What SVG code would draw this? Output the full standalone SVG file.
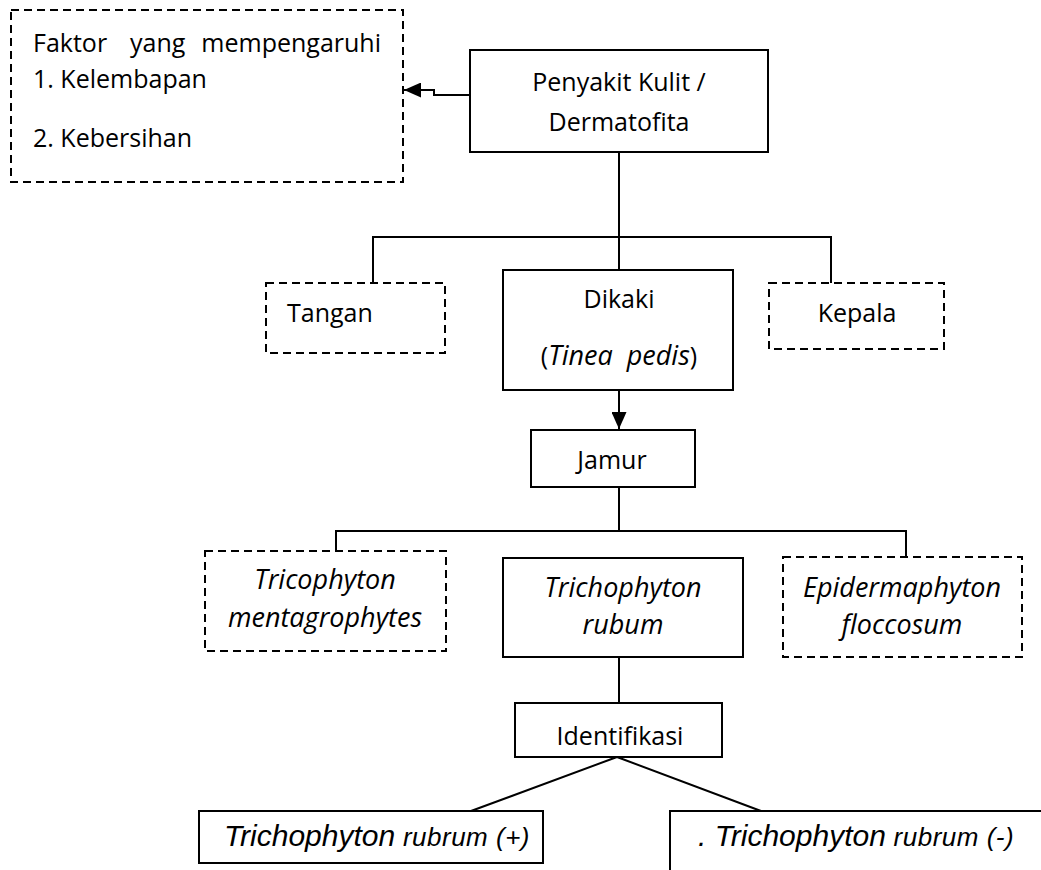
<svg xmlns="http://www.w3.org/2000/svg" width="1041" height="870" viewBox="0 0 1041 870">
<style>
.solid{fill:#fff;stroke:#000;stroke-width:2}
.dash{fill:#fff;stroke:#000;stroke-width:2;stroke-dasharray:8 5}
.conn{fill:none;stroke:#000;stroke-width:2}
.t{font-family:"Open Sans","Liberation Sans",sans-serif;font-size:25px;fill:#000}
.c{text-anchor:middle}
.i{font-style:italic;font-size:27px}
.a{font-family:"Liberation Sans",Arial,sans-serif;font-style:italic;fill:#000}
.big{font-size:30px}
.sm{font-size:26px;letter-spacing:0.5px}
</style>
<defs>
<marker id="arr" markerUnits="userSpaceOnUse" markerWidth="17" markerHeight="15" refX="17" refY="7.5" orient="auto">
<path d="M0,0 L17,7.5 L0,15 z" fill="#000"/>
</marker>
</defs>
<rect width="1041" height="870" fill="#fff"/>
<g id="connectors">
<path class="conn" d="M470,95 H434 V90 H404" marker-end="url(#arr)"/>
<path class="conn" d="M619,152 V270"/>
<path class="conn" d="M373,283 V237 H831 V283"/>
<path class="conn" d="M619,390 V429" marker-end="url(#arr)"/>
<path class="conn" d="M619,487 V531"/>
<path class="conn" d="M336,551 V531 H906 V557"/>
<path class="conn" d="M619,657 V703"/>
<path class="conn" d="M617,757 L471,811 M617,757 L761,811"/>
</g>
<g id="faktor">
<rect class="dash" x="11" y="10" width="392" height="172"/>
<text class="t" y="52"><tspan x="33">Faktor</tspan><tspan x="130">yang</tspan></text>
<text class="t" x="381" y="52" text-anchor="end">mempengaruhi</text>
<text class="t" x="33" y="88">1. Kelembapan</text>
<text class="t" x="33" y="147">2. Kebersihan</text>
</g>
<g id="penyakit">
<rect class="solid" x="470" y="50" width="298" height="102"/>
<text class="t c" x="619" y="91">Penyakit Kulit /</text>
<text class="t c" x="619" y="131">Dermatofita</text>
</g>
<g id="tangan">
<rect class="dash" x="266" y="283" width="179" height="70"/>
<text class="t" x="287" y="322">Tangan</text>
</g>
<g id="dikaki">
<rect class="solid" x="503" y="270" width="230" height="120"/>
<text class="t c" x="619" y="308">Dikaki</text>
<text class="t c" x="619" y="365">(<tspan class="i">Tinea</tspan><tspan class="i" dx="14">pedis</tspan>)</text>
</g>
<g id="kepala">
<rect class="dash" x="769" y="283" width="175" height="66"/>
<text class="t c" x="857" y="322">Kepala</text>
</g>
<g id="jamur">
<rect class="solid" x="531" y="430" width="164" height="57"/>
<text class="t c" x="612" y="469">Jamur</text>
</g>
<g id="mentagrophytes">
<rect class="dash" x="205" y="551" width="241" height="100"/>
<text class="t c i" x="325" y="589">Tricophyton</text>
<text class="t c i" x="325" y="627">mentagrophytes</text>
</g>
<g id="rubum">
<rect class="solid" x="503" y="558" width="240" height="99"/>
<text class="t c i" x="623" y="597">Trichophyton</text>
<text class="t c i" x="623" y="634">rubum</text>
</g>
<g id="epidermaphyton">
<rect class="dash" x="783" y="557" width="239" height="100"/>
<text class="t c i" x="902" y="597">Epidermaphyton</text>
<text class="t c i" x="902" y="634">floccosum</text>
</g>
<g id="identifikasi">
<rect class="solid" x="515" y="703" width="207" height="54"/>
<text class="t c" x="620" y="745">Identifikasi</text>
</g>
<g id="positif">
<rect class="solid" x="199" y="811" width="344" height="52"/>
<text class="a" x="224" y="846"><tspan class="big">Trichophyton</tspan><tspan class="sm"> rubrum (+)</tspan></text>
</g>
<g id="negatif">
<rect class="solid" x="670" y="811" width="420" height="100"/>
<text class="a" x="698" y="846"><tspan class="big">. Trichophyton</tspan><tspan class="sm"> rubrum (-)</tspan></text>
</g>
</svg>
